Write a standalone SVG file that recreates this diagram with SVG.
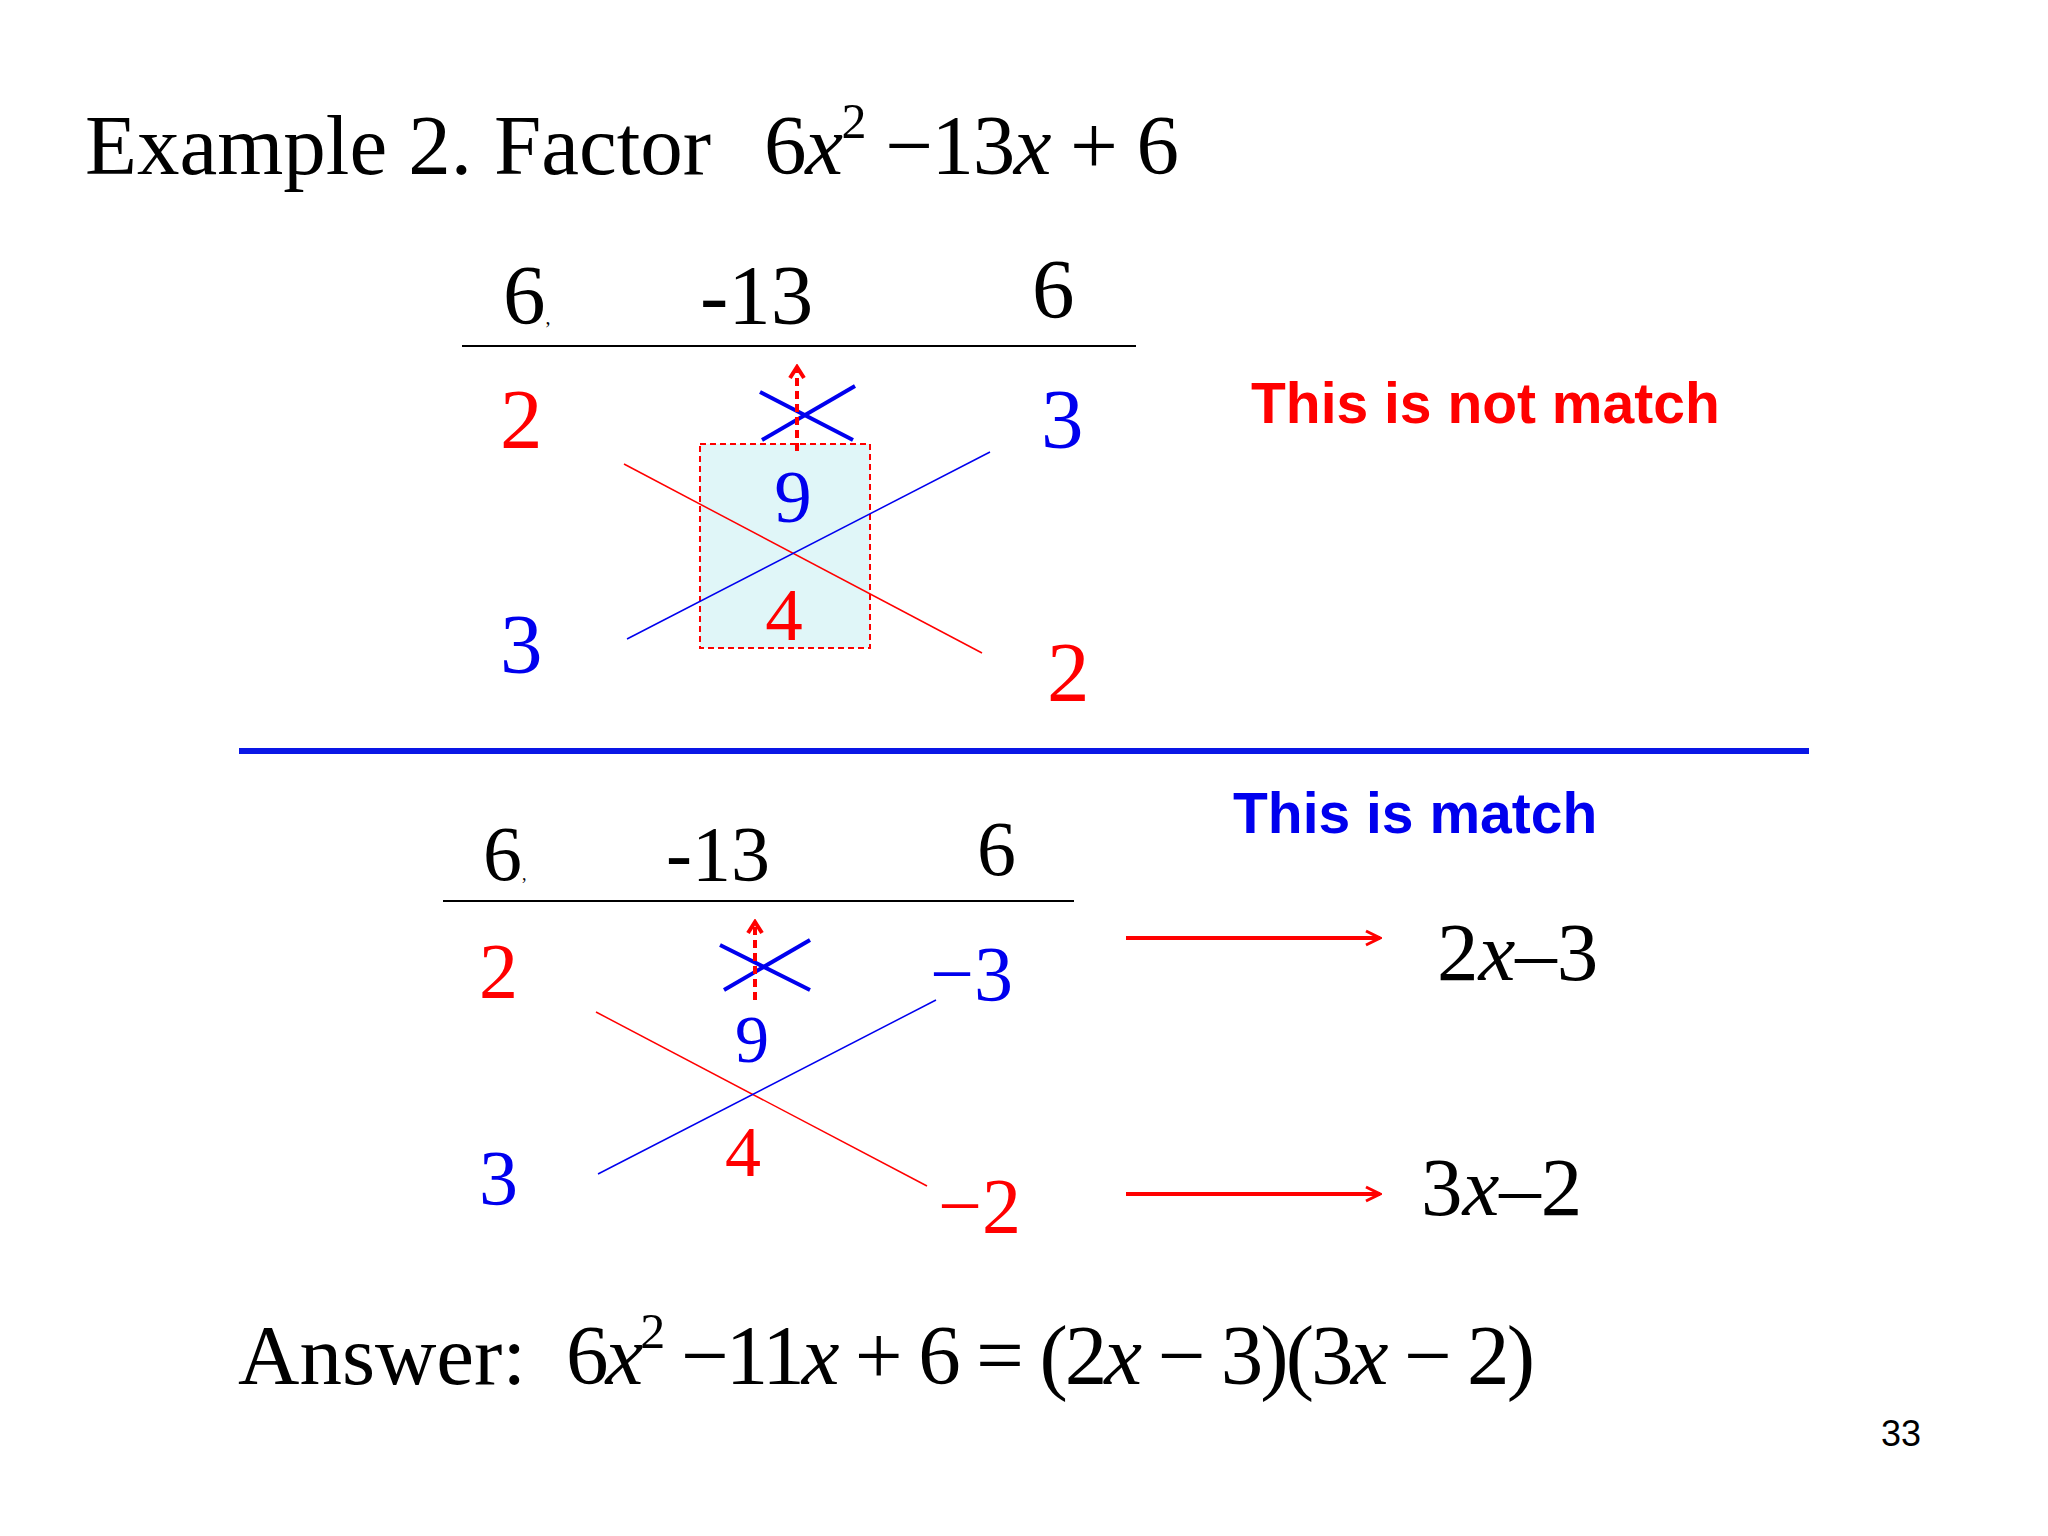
<svg xmlns="http://www.w3.org/2000/svg" width="2048" height="1536" viewBox="0 0 2048 1536">
<defs>
<marker id="ah" viewBox="0 0 20 20" refX="18" refY="10" markerWidth="20" markerHeight="20" markerUnits="userSpaceOnUse" orient="auto"><path d="M4,3 L18,10 L4,17" fill="none" stroke="#ff0000" stroke-width="3"/></marker>
<marker id="dh" viewBox="0 0 20 20" refX="10" refY="4" markerWidth="20" markerHeight="20" markerUnits="userSpaceOnUse" orient="0"><path d="M3,14 L10,3 L17,14" fill="none" stroke="#ff0000" stroke-width="4"/></marker>
</defs>
<style>
.s{font-family:"Liberation Serif","Times New Roman",serif}
.b{font-family:"Liberation Sans",Arial,sans-serif;font-weight:bold}
.r{fill:#ff0000}.u{fill:#0000ee}.k{fill:#000}
.i{font-style:italic}
</style>
<rect width="2048" height="1536" fill="#fff"/>
<g id="title" class="s" font-size="85">
<text x="85" y="174">Example 2.</text>
<text x="494" y="174">Factor</text>
<text x="764" y="174" textLength="415" lengthAdjust="spacing">6<tspan class="i">x</tspan><tspan font-size="50" dy="-36">2</tspan><tspan dy="36"> −13</tspan><tspan class="i">x</tspan> + 6</text>
</g>
<g id="top-table" class="s" font-size="85">
<text x="503" y="324">6<tspan font-size="20">,</tspan></text>
<text x="700" y="324">-13</text>
<text x="1032" y="318">6</text>
<line x1="462" y1="346" x2="1136" y2="346" stroke="#000" stroke-width="2"/>
<rect x="700" y="444" width="170" height="204" fill="#e0f6f8" stroke="#ff0000" stroke-width="2" stroke-dasharray="6,4"/>
<text x="500" y="448" class="r">2</text>
<text x="1041" y="448" class="u">3</text>
<text x="500" y="673" class="u">3</text>
<text x="1047" y="701" class="r">2</text>
<text x="793" y="522" class="u" text-anchor="middle" font-size="75">9</text>
<text x="784" y="640" class="r" text-anchor="middle" font-size="75">4</text>
</g>
<g id="top-cross">
<line x1="760" y1="392" x2="853" y2="440" stroke="#0000ee" stroke-width="4"/>
<line x1="762" y1="440" x2="855" y2="386" stroke="#0000ee" stroke-width="4"/>
<line x1="797" y1="451" x2="797" y2="368" stroke="#ff0000" stroke-width="4" stroke-dasharray="8,5" marker-end="url(#dh)"/>
</g>
<g id="connectors">
<line x1="624" y1="464" x2="982" y2="653" stroke="#ff0000" stroke-width="1.5"/>
<line x1="627" y1="639" x2="990" y2="452" stroke="#0000ee" stroke-width="1.5"/>
<line x1="596" y1="1012" x2="927" y2="1186" stroke="#ff0000" stroke-width="1.5"/>
<line x1="598" y1="1174" x2="936" y2="1000" stroke="#0000ee" stroke-width="1.5"/>
<line x1="1126" y1="938" x2="1380" y2="938" stroke="#ff0000" stroke-width="4" marker-end="url(#ah)"/>
<line x1="1126" y1="1194" x2="1380" y2="1194" stroke="#ff0000" stroke-width="4" marker-end="url(#ah)"/>
</g>
<g id="not-match"><text x="1251" y="423" class="b r" font-size="57">This is not match</text></g>
<line x1="239" y1="751" x2="1809" y2="751" stroke="#0a17e6" stroke-width="6"/>
<g id="match"><text x="1233" y="833" class="b u" font-size="57">This is match</text></g>
<g id="bottom-table" class="s" font-size="78">
<text x="483" y="880">6<tspan font-size="18">,</tspan></text>
<text x="666" y="880">-13</text>
<text x="977" y="875">6</text>
<line x1="443" y1="901" x2="1074" y2="901" stroke="#000" stroke-width="2"/>
<text x="479" y="997" class="r">2</text>
<text x="930" y="1000" class="u">−3</text>
<text x="479" y="1204" class="u">3</text>
<text x="938" y="1232" class="r">−2</text>
<text x="752" y="1062" class="u" text-anchor="middle" font-size="68">9</text>
<text x="743" y="1176" class="r" text-anchor="middle" font-size="72">4</text>
</g>
<g id="bottom-cross">
<line x1="720" y1="945" x2="810" y2="990" stroke="#0000ee" stroke-width="4"/>
<line x1="724" y1="990" x2="810" y2="940" stroke="#0000ee" stroke-width="4"/>
<line x1="755" y1="1000" x2="755" y2="923" stroke="#ff0000" stroke-width="4" stroke-dasharray="8,5" marker-end="url(#dh)"/>
</g>
<g id="factors" class="s" font-size="83">
<text x="1437" y="980">2<tspan class="i">x</tspan>–3</text>
<text x="1421" y="1215">3<tspan class="i">x</tspan>–2</text>
</g>
<g id="answer" class="s" font-size="85">
<text x="238" y="1384">Answer:</text>
<text x="566" y="1384" textLength="969" lengthAdjust="spacing">6<tspan class="i">x</tspan><tspan font-size="50" dy="-36">2</tspan><tspan dy="36"> −11</tspan><tspan class="i">x</tspan> + 6 = (2<tspan class="i">x</tspan> − 3)(3<tspan class="i">x</tspan> − 2)</text>
</g>
<text x="1881" y="1446" font-family="Liberation Sans,Arial,sans-serif" font-size="36">33</text>
</svg>
